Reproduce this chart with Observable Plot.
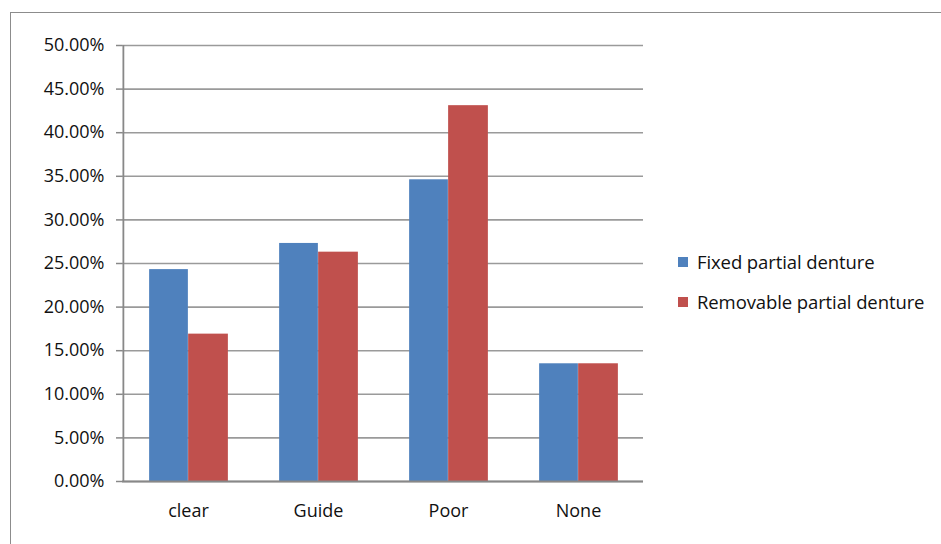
<!DOCTYPE html>
<html>
<head>
<meta charset="utf-8">
<script src="https://cdn.jsdelivr.net/npm/d3@7"></script>
<script src="https://cdn.jsdelivr.net/npm/@observablehq/plot@0.6"></script>
<style>
  html, body { margin: 0; padding: 0; background: #fff; }
  #wrap { position: relative; width: 941px; height: 544px; overflow: hidden; font-family: "Open Sans", sans-serif; }
  #border { position: absolute; left: 10px; top: 12px; width: 960px; height: 560px; border: 1.5px solid #8c8c8c; box-sizing: border-box; }
  #chart { position: absolute; left: 0; top: 0; }
  .leg { position: absolute; left: 678px; font-size: 18.5px; color: #111; display: flex; align-items: center; white-space: nowrap; letter-spacing: -0.1px; }
  .sw { width: 10px; height: 10px; margin-right: 9px; }
</style>
</head>
<body>
<div id="wrap">
  <div id="border"></div>
  <div id="chart"></div>
</div>
<script>
const categories = ["clear", "Guide", "Poor", "None"];
const series = ["Fixed partial denture", "Removable partial denture"];
const fixedValues = [0.243, 0.273, 0.346, 0.135];
const removableValues = [0.169, 0.263, 0.431, 0.135];
const yTicks = [0, 0.05, 0.10, 0.15, 0.20, 0.25, 0.30, 0.35, 0.40, 0.45, 0.50];
const colors = ["#4F81BD", "#C0504D"];

const fixed = categories.map((c, i) => ({category: c, value: fixedValues[i]}));
const removable = categories.map((c, i) => ({category: c, value: removableValues[i]}));

const W = 941, H = 544;
const mL = 122, mR = 298, mT = 45, mB = 63;
const band = (W - mL - mR) / categories.length;
const barW = 39;
const outer = (band - 2 * barW) / 2;

const chart = Plot.plot({
  width: W,
  height: H,
  marginLeft: mL,
  marginRight: mR,
  marginTop: mT,
  marginBottom: mB,
  style: {fontFamily: "'Open Sans', sans-serif", fontSize: "18px", color: "#111", background: "transparent"},
  x: {domain: categories, padding: 0, label: null},
  y: {domain: [0, 0.5], label: null},
  marks: [
    Plot.gridY(yTicks, {stroke: "#9a9a9a", strokeOpacity: 1, strokeWidth: 1.6}),
    Plot.barY(fixed, {x: "category", y: "value", fill: colors[0], insetLeft: outer, insetRight: band - outer - barW}),
    Plot.barY(removable, {x: "category", y: "value", fill: colors[1], insetLeft: outer + barW, insetRight: outer - 1}),
    Plot.axisY({ticks: yTicks, tickFormat: d => (d * 100).toFixed(2) + "%", tickSize: 6, tickPadding: 12, stroke: "#888", strokeWidth: 1.5, fontSize: 18, label: null}),
    Plot.ruleX([categories[0]], {x: d => d, dx: -band / 2, y1: 0, y2: 0.5, stroke: "#888", strokeWidth: 1.8}),
    Plot.ruleY([0], {stroke: "#888", strokeWidth: 2}),
    Plot.axisX({tickSize: 0, tickPadding: 23, fontSize: 18, label: null})
  ]
});
document.getElementById("chart").appendChild(chart);

const wrap = document.getElementById("wrap");
const legendTops = [249, 289];
series.forEach((s, i) => {
  const d = document.createElement("div");
  d.className = "leg";
  d.style.top = legendTops[i] + "px";
  const sw = document.createElement("div");
  sw.className = "sw";
  sw.style.background = colors[i];
  const t = document.createElement("span");
  t.textContent = s;
  d.appendChild(sw);
  d.appendChild(t);
  wrap.appendChild(d);
});
</script>
</body>
</html>
